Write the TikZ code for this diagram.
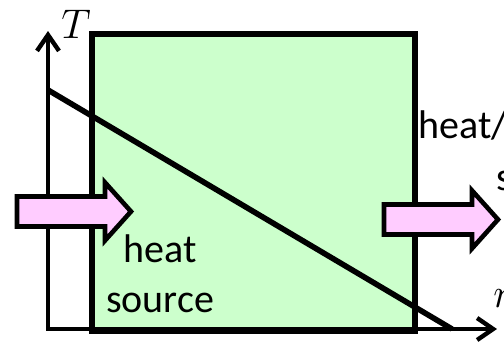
\documentclass[tikz,border=0pt]{standalone}
\usepackage{fontspec}
\setmainfont{Carlito}
\usetikzlibrary{arrows.meta}
\definecolor{boxgreen}{HTML}{CCFFCC}
\definecolor{flowpink}{HTML}{FFCCFF}
\tikzset{
  axis/.style={line width=2.2pt, {Straight Barb[length=8pt,width=11pt]}-{Straight Barb[length=8pt,width=11pt]}},
  flowarrow/.style={draw=black, fill=flowpink, line width=2.3pt, line join=miter},
  lbl/.style={inner sep=0pt, font=\fontsize{20}{25}\selectfont}
}
\begin{document}
\begin{tikzpicture}[x=0.5pt,y=-0.5pt]
\useasboundingbox (0,0) rectangle (504,345);
\def\xO{48};
\def\yO{329};
\coordinate (O) at (\xO,\yO);
\coordinate (Tend) at (\xO,31);
\coordinate (Mend) at (497,\yO);
\coordinate (hot) at (\xO,90);
\coordinate (cold) at (452,\yO);
% exchanger
\draw[fill=boxgreen, line width=2.8pt] (92,34) rectangle (415,331);
\draw[axis] (Tend) -- (O) -- (Mend);
\draw[line width=2.8pt] (hot) -- (cold);
% heat in / heat out
\foreach \xa/\ya in {17/211.5, 384/219.5}
  \draw[flowarrow] (\xa,\ya-15) -- ++(88,0) -- ++(0,-14) -- ++(26,29) -- ++(-26,29) -- ++(0,-14) -- ++(-88,0) -- cycle;
\node[lbl, font=\fontsize{20.5}{24}\selectfont] (Tlbl) at (76,24) {$T$};
\node[lbl, align=center, anchor=north] (src) at (160,234.5) {heat\\source};
\node[lbl, anchor=base west] (sink) at (418,138) {heat/};
\node[lbl, anchor=base west] (sink2) at (496,190) {s};
\node[lbl, anchor=base west] (Mlbl) at (493,307) {$m$};
\end{tikzpicture}
\end{document}
